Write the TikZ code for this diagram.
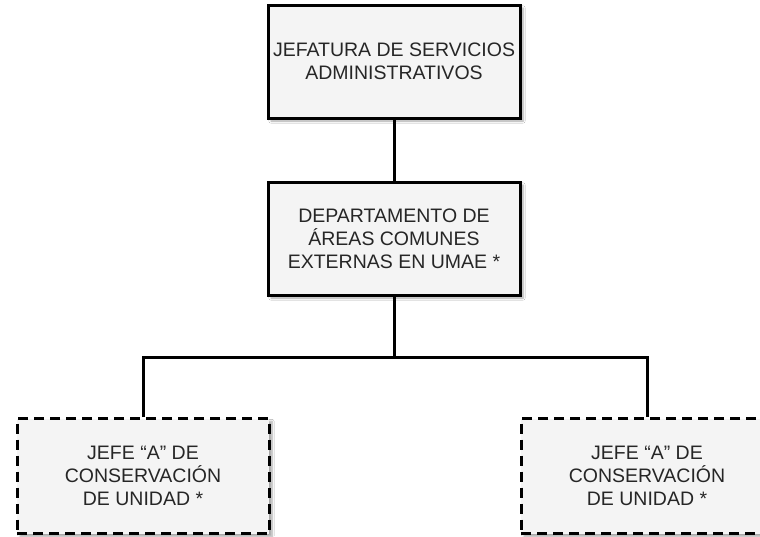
\documentclass[tikz,border=0pt]{standalone}
\usepackage{fontspec}
\setmainfont{Liberation Sans}
\usetikzlibrary{shadows.blur}
\definecolor{boxfill}{HTML}{F4F4F4}
\definecolor{txt}{HTML}{262626}
\tikzset{
  orgbox/.style={rectangle, draw=black, line width=3pt, fill=boxfill,
    minimum width=252pt, inner sep=0pt, align=center, text=txt,
    font=\fontsize{19.5}{23}\selectfont,
    blur shadow={shadow xshift=3pt, shadow yshift=-3pt, shadow blur steps=6, shadow opacity=35}},
  solidbox/.style={orgbox, minimum height=113pt},
  dashbox/.style={orgbox, minimum height=115pt, dash pattern=on 10pt off 6pt},
  link/.style={draw=black, line width=3pt}
}
\begin{document}
\begin{tikzpicture}[x=1pt, y=-1pt]
\clip (0,0) rectangle (760,536);
\fill[white] (0,0) rectangle (760,536);
\node[solidbox] (top) at (394,61.5) {JEFATURA DE SERVICIOS\\ADMINISTRATIVOS};
\node[solidbox] (mid) at (394,238.5) {DEPARTAMENTO DE\\ÁREAS COMUNES\\EXTERNAS EN UMAE *};
\node[dashbox] (left) at (143,476) {JEFE “A” DE\\CONSERVACIÓN\\DE UNIDAD *};
\node[dashbox] (right) at (647,476) {JEFE “A” DE\\CONSERVACIÓN\\DE UNIDAD *};
\coordinate (j) at (394,357);
\draw[link] (top) -- (mid);
\draw[link] (mid) -- (j);
\draw[link] (left.north) |- (j) -| (right.north);
\end{tikzpicture}
\end{document}
